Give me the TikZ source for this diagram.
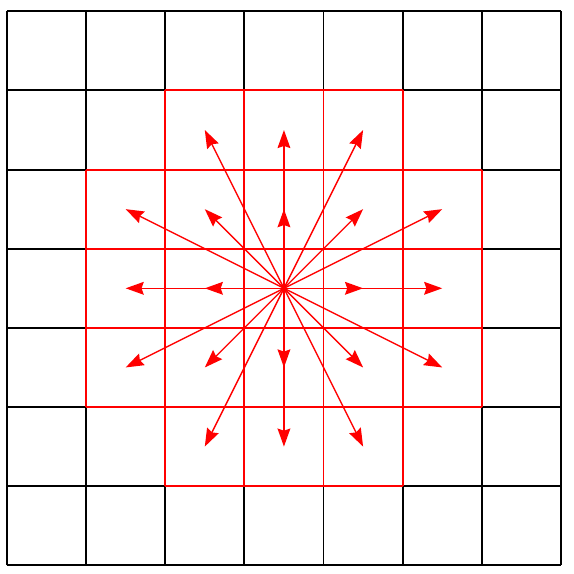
\documentclass[tikz,border=0pt]{standalone}
\usetikzlibrary{arrows.meta}

\begin{document}
\begin{tikzpicture}[line width = 0.7pt,
				board/.style = {draw = black},
				reach/.style = {draw = red},
				move/.style = {draw = red, line width = 0.5pt,
				-{Stealth[length = 6.5pt, width = 4.6pt, inset = 0.8pt]}},
				]
			\useasboundingbox (-0.088,-0.11) rectangle (7.165,7.143);

			% black board
			\draw [board] (0,0) grid (7,7);

			% red cells
			\draw [reach] (2,1) -- (5,1);
			\draw [reach] (1,2) -- (6,2);
			\draw [reach] (1,3) -- (6,3);
			\draw [reach] (1,4) -- (6,4);
			\draw [reach] (1,5) -- (6,5);
			\draw [reach] (2,6) -- (5,6);
			\draw [reach] (1,2) -- (1,5);
			\draw [reach] (2,1) -- (2,6);
			\draw [reach] (3,1) -- (3,6);
			\draw [reach] (4,1) -- (4,6);
			\draw [reach] (5,1) -- (5,6);
			\draw [reach] (6,2) -- (6,5);

			\coordinate (o) at (3.5,3.5);

			\coordinate (n_1) at (3.5,4.5);
			\coordinate (n_2) at (3.5,5.5);
			\coordinate (s_1) at (3.5,2.5);
			\coordinate (s_2) at (3.5,1.5);
			\coordinate (w_1) at (2.5,3.5);
			\coordinate (w_2) at (1.5,3.5);
			\coordinate (e_1) at (4.5,3.5);
			\coordinate (e_2) at (5.5,3.5);
			\coordinate (ne) at (4.5,4.5);
			\coordinate (nw) at (2.5,4.5);
			\coordinate (se) at (4.5,2.5);
			\coordinate (sw) at (2.5,2.5);
			\coordinate (k_1) at (4.5,5.5);
			\coordinate (k_2) at (2.5,5.5);
			\coordinate (k_3) at (5.5,4.5);
			\coordinate (k_4) at (1.5,4.5);
			\coordinate (k_5) at (5.5,2.5);
			\coordinate (k_6) at (1.5,2.5);
			\coordinate (k_7) at (4.5,1.5);
			\coordinate (k_8) at (2.5,1.5);

			\draw [move] (o) -- (n_1);
			\draw [move] (o) -- (n_2);
			\draw [move] (o) -- (s_1);
			\draw [move] (o) -- (s_2);
			\draw [move] (o) -- (w_1);
			\draw [move] (o) -- (w_2);
			\draw [move] (o) -- (e_1);
			\draw [move] (o) -- (e_2);
			\draw [move] (o) -- (ne);
			\draw [move] (o) -- (nw);
			\draw [move] (o) -- (se);
			\draw [move] (o) -- (sw);
			\draw [move] (o) -- (k_1);
			\draw [move] (o) -- (k_2);
			\draw [move] (o) -- (k_3);
			\draw [move] (o) -- (k_4);
			\draw [move] (o) -- (k_5);
			\draw [move] (o) -- (k_6);
			\draw [move] (o) -- (k_7);
			\draw [move] (o) -- (k_8);
		\end{tikzpicture}
\end{document}
